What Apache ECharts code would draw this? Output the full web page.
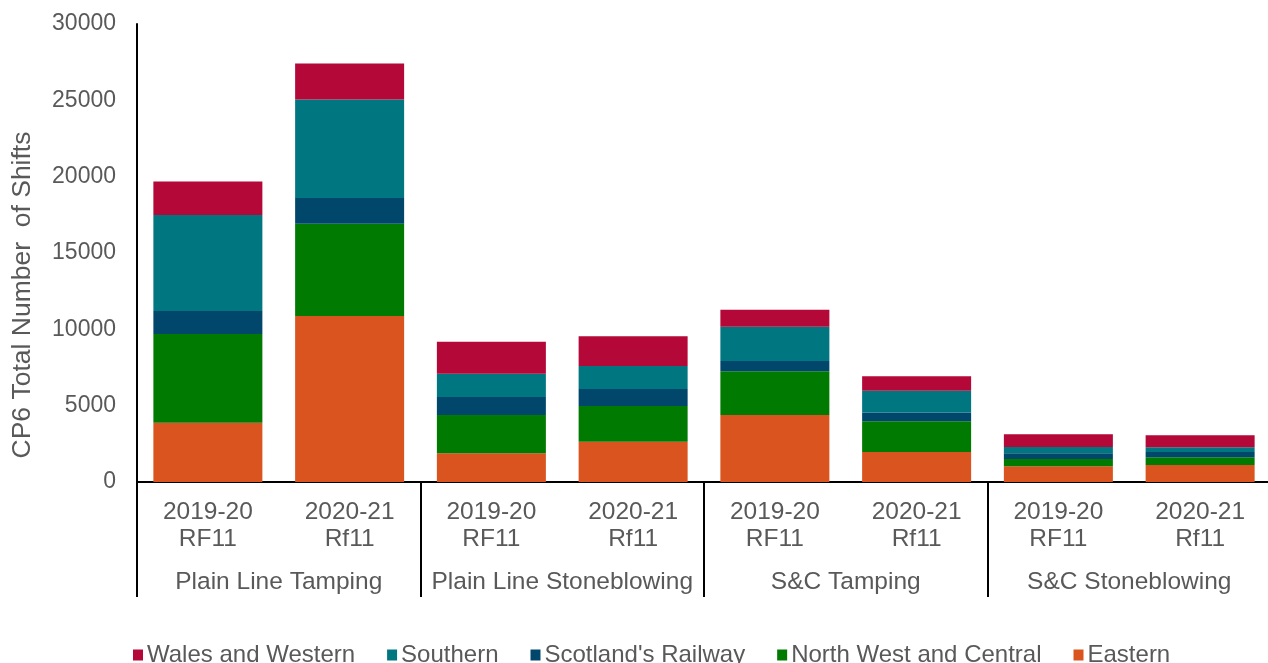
<!DOCTYPE html>
<html>
<head>
<meta charset="utf-8">
<script src="https://cdn.jsdelivr.net/npm/echarts@6/dist/echarts.min.js"></script>
<style>
  html, body { margin: 0; padding: 0; background: #ffffff; }
  #chart { width: 1268px; height: 663px; }
</style>
</head>
<body>
<div id="chart"></div>
<script>
// Work types (outer axis level) and report periods (inner axis level)
const groups = ['Plain Line Tamping', 'Plain Line Stoneblowing', 'S&C Tamping', 'S&C Stoneblowing'];
const periods = ['2019-20\nRF11', '2020-21\nRf11'];
const categories = groups.flatMap(() => periods);

// Shifts per region, one value per bar (two periods for each work type)
const eastern   = [3880, 10870, 1880, 2640, 4390, 1960, 1030, 1110];
const northWest = [5810,  6050, 2510, 2340, 2860, 2020,  480,  510];
const scotland  = [1510,  1680, 1180, 1110,  670,  580,  370,  340];
const southern  = [6290,  6460, 1520, 1510, 2250, 1420,  410,  310];
const wales     = [2200,  2360, 2100, 1940, 1110,  940,  830,  790];

const yTicks = { min: 0, max: 30000, interval: 5000 };

const textColor = '#595959';
const fontFamily = '"Liberation Sans", Arial, sans-serif';

// Stacked from the bottom up
const regions = [
  { name: 'Eastern', data: eastern, color: '#D9541E' },
  { name: 'North West and Central', data: northWest, color: '#007A00' },
  { name: "Scotland's Railway", data: scotland, color: '#00476B' },
  { name: 'Southern', data: southern, color: '#007681' },
  { name: 'Wales and Western', data: wales, color: '#B30838' }
];

const chart = echarts.init(document.getElementById('chart'), null, { renderer: 'canvas' });

chart.setOption({
  animation: false,
  backgroundColor: '#ffffff',
  textStyle: { fontFamily: fontFamily },
  grid: {
    left: 137, top: 24, width: 1134, bottom: 181,
    containLabel: false,
    outerBoundsMode: 'none'
  },
  legend: {
    data: regions.slice().reverse().map(r => r.name),
    left: 128,
    top: 638,
    itemWidth: 10,
    itemHeight: 11,
    itemGap: 32,
    icon: 'rect',
    textStyle: { color: textColor, fontSize: 24, fontFamily: fontFamily, padding: [0, 0, 0, -1] }
  },
  xAxis: [
    {
      type: 'category',
      data: categories,
      position: 'bottom',
      axisLine: { show: true, lineStyle: { color: '#000000', width: 2 } },
      axisTick: { show: false },
      axisLabel: {
        interval: 0,
        color: textColor,
        fontSize: 24.5,
        lineHeight: 27,
        margin: 17,
        fontFamily: fontFamily
      },
      splitLine: { show: false }
    },
    {
      type: 'category',
      data: groups,
      position: 'bottom',
      axisLine: { show: false },
      axisTick: {
        show: true,
        interval: 0,
        inside: false,
        length: 115,
        lineStyle: { color: '#000000', width: 2 }
      },
      axisLabel: {
        interval: 0,
        color: textColor,
        fontSize: 24.5,
        margin: 88,
        fontFamily: fontFamily
      },
      splitLine: { show: false }
    }
  ],
  yAxis: {
    type: 'value',
    min: yTicks.min,
    max: yTicks.max,
    interval: yTicks.interval,
    name: 'CP6 Total Number  of Shifts',
    nameLocation: 'middle',
    nameRotate: 90,
    nameGap: 101,
    nameTextStyle: {
      color: textColor,
      fontSize: 26.5,
      fontFamily: fontFamily,
      padding: [0, 84, 0, 0]
    },
    axisLine: { show: true, lineStyle: { color: '#000000', width: 2 } },
    axisTick: { show: false },
    axisLabel: {
      color: textColor,
      fontSize: 23,
      margin: 21,
      fontFamily: fontFamily,
      formatter: v => String(v)
    },
    splitLine: { show: false }
  },
  series: regions.map(r => ({
    name: r.name,
    type: 'bar',
    stack: 'shifts',
    xAxisIndex: 0,
    barWidth: 109,
    data: r.data,
    itemStyle: { color: r.color }
  }))
});
</script>
</body>
</html>
